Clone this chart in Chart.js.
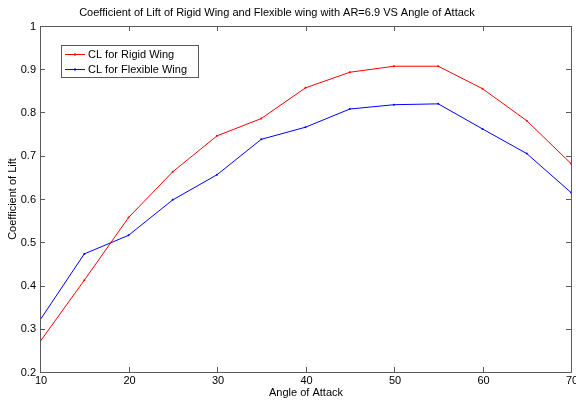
<!DOCTYPE html>
<html>
<head>
<meta charset="utf-8">
<script src="https://cdn.jsdelivr.net/npm/chart.js@4/dist/chart.umd.min.js"></script>
<style>
  html, body { margin: 0; padding: 0; background: #fff; }
  #wrap { width: 576px; height: 400px; }
</style>
</head>
<body>
<div id="wrap"><canvas id="lift"></canvas></div>
<script>
// angle of attack (deg)
const angles = [10, 15, 20, 25, 30, 35, 40, 45, 50, 55, 60, 65, 70]
// lift coefficient
const clRigid    = [0.270, 0.412, 0.557, 0.663, 0.746, 0.786, 0.857, 0.893, 0.907, 0.907, 0.855, 0.781, 0.682]
const clFlexible = [0.320, 0.473, 0.516, 0.598, 0.656, 0.738, 0.766, 0.808, 0.818, 0.820, 0.762, 0.705, 0.615]
const xTicks = [10, 20, 30, 40, 50, 60, 70]
const yTicks = [0.2, 0.3, 0.4, 0.5, 0.6, 0.7, 0.8, 0.9, 1]
const seriesNames = ['CL for Rigid Wing', 'CL for Flexible Wing']
const titleText = 'Coefficient of Lift of Rigid Wing and Flexible wing with AR=6.9 VS Angle of Attack'
const xTitle = 'Angle of Attack'
const yTitle = 'Coefficient of Lift'

const FONT = '"Liberation Sans", Arial, sans-serif'
const AXIS = '#5a5a5a'

// MATLAB style box, inward ticks, labels, titles and legend
const matlabFrame = {
    id: 'matlabFrame',
    afterDatasetsDraw(chart) {
        const { ctx, chartArea: a, scales } = chart
        const x = scales.x, y = scales.y
        const len = 5
        ctx.save()
        ctx.strokeStyle = AXIS
        ctx.lineWidth = 1
        ctx.beginPath()
        ctx.rect(Math.round(a.left) + 0.5, Math.round(a.top) + 0.5,
                 Math.round(a.right - a.left), Math.round(a.bottom - a.top))
        ctx.stroke()

        ctx.beginPath()
        xTicks.forEach(v => {
            const px = Math.round(x.getPixelForValue(v)) + 0.5
            ctx.moveTo(px, a.bottom); ctx.lineTo(px, a.bottom - len)
            ctx.moveTo(px, a.top);    ctx.lineTo(px, a.top + len)
        })
        yTicks.forEach(v => {
            const py = Math.round(y.getPixelForValue(v)) + 0.5
            ctx.moveTo(a.left, py);  ctx.lineTo(a.left + len, py)
            ctx.moveTo(a.right, py); ctx.lineTo(a.right - len, py)
        })
        ctx.stroke()

        // tick labels
        ctx.font = '11px ' + FONT
        ctx.fillStyle = '#000'
        ctx.textBaseline = 'middle'
        ctx.textAlign = 'right'
        yTicks.forEach(v => {
            ctx.fillText(String(+v.toFixed(1)), a.left - 4, y.getPixelForValue(v) + 0.5)
        })
        ctx.textAlign = 'center'
        xTicks.forEach(v => {
            ctx.fillText(String(v), x.getPixelForValue(v) + 1, a.bottom + 9)
        })

        // axis titles
        ctx.fillText(xTitle, (a.left + a.right) / 2 + 0.5, a.bottom + 21)
        ctx.save()
        ctx.translate(13, (a.top + a.bottom) / 2)
        ctx.rotate(-Math.PI / 2)
        ctx.fillText(yTitle, 0, 0)
        ctx.restore()

        // legend box
        const lx = 61, ly = 45, lw = 137, lh = 32
        ctx.fillStyle = '#fff'
        ctx.fillRect(lx, ly, lw, lh)
        ctx.strokeStyle = AXIS
        ctx.strokeRect(lx + 0.5, ly + 0.5, lw, lh)
        ctx.textAlign = 'left'
        chart.data.datasets.forEach((ds, i) => {
            const cy = ly + 9.5 + i * 15
            ctx.strokeStyle = ds.borderColor
            ctx.beginPath()
            ctx.moveTo(65, cy); ctx.lineTo(85, cy)
            ctx.stroke()
            ctx.fillStyle = ds.borderColor
            ctx.fillRect(74, cy - 1, 2, 2)
            ctx.fillStyle = '#000'
            ctx.fillText(ds.label, 88, cy)
        })

        // title
        ctx.textAlign = 'center'
        ctx.fillStyle = '#000'
        ctx.fillText(titleText, 277, 13)
        ctx.restore()
    }
}

new Chart(document.getElementById('lift'), {
    type: 'line',
    data: {
        labels: angles,
        datasets: [
            {
                label: seriesNames[0],
                data: angles.map((a, i) => ({ x: a, y: clRigid[i] })),
                borderColor: '#ff0000',
                backgroundColor: '#ff0000',
                borderWidth: 1,
                pointRadius: 1,
                pointBorderWidth: 0,
                tension: 0,
            },
            {
                label: seriesNames[1],
                data: angles.map((a, i) => ({ x: a, y: clFlexible[i] })),
                borderColor: '#0000ff',
                backgroundColor: '#0000ff',
                borderWidth: 1,
                pointRadius: 1,
                pointBorderWidth: 0,
                tension: 0,
            }
        ]
    },
    options: {
        responsive: true,
        maintainAspectRatio: false,
        animation: false,
        layout: { padding: { top: 26, right: 5, left: 0, bottom: 0 } },
        plugins: {
            legend: { display: false },
            tooltip: { enabled: false },
        },
        scales: {
            x: {
                type: 'linear',
                min: 10, max: 70,
                grid: { display: false },
                border: { display: false },
                ticks: { display: false },
                afterFit: s => { s.height = 28 },
            },
            y: {
                min: 0.2, max: 1,
                grid: { display: false },
                border: { display: false },
                ticks: { display: false },
                afterFit: s => { s.width = 40 },
            }
        }
    },
    plugins: [matlabFrame]
})
</script>
</body>
</html>
